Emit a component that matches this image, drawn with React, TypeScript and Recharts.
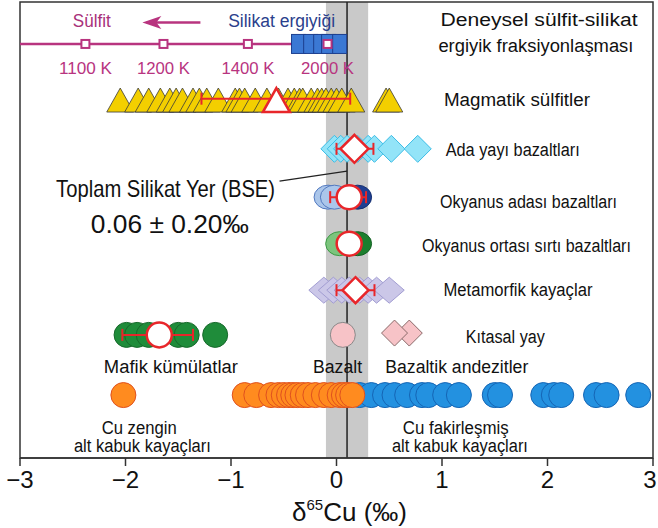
import React from 'react';
import { ComposedChart, Scatter, XAxis, YAxis, ReferenceArea, ReferenceLine, Label } from 'recharts';

const FONT = '"Liberation Sans", Arial, sans-serif';

// vertical layout: 0 = top of frame, 10 = bottom of frame
const ROW = {
  arrow: 0.45,
  sulfide: 0.92,
  kelvin: 1.58,
  magmatic: 2.15,
  ada: 3.22,
  oib: 4.28,
  morb: 5.3,
  meta: 6.32,
  mafic: 7.3,
  cu: 8.62,
};

// δ65Cu values (‰)
const sulfideSteps = [-2.38, -1.64, -0.84, -0.085];
const sulfideTemps = ['1100 K', '1200 K', '1400 K', '2000 K'];
const silicateMelt = [-0.36, -0.245, -0.15, -0.075, 0.03];

const magmaticSulfides = [
  -2.05, -1.88, -1.78, -1.67, -1.58, -1.52, -1.46, -1.36, -1.3, -1.23, -1.12, -0.96, -0.92,
  -0.87, -0.77, -0.66, -0.55, -0.46, -0.4, -0.35, -0.32, -0.24, -0.18, -0.14, -0.1, -0.05,
  0.0, 0.05, 0.14, 0.47, 0.5,
];
const arcBasalts = [-0.02, 0.04, 0.1, 0.2, 0.3, 0.36, 0.52, 0.77];
const oibLight = [-0.08, -0.02];
const oibDark = [0.2];
const morbLight = [0.03];
const morbDark = [0.2];
const metamorphic = [-0.12, -0.03, 0.05, 0.12, 0.22, 0.3, 0.38, 0.5];
const maficCumulates = [-1.99, -1.89, -1.78, -1.5, -1.42, -1.15];
const basalt = [0.06];
const arcAndesites = [0.69, 0.55];
const cuRichCrust = [
  -2.02, -0.87, -0.76, -0.62, -0.55, -0.5, -0.45, -0.41, -0.37, -0.32, -0.27, -0.2, -0.12,
  -0.05, 0.03, 0.07, 0.11, 0.15,
];
const cuPoorCrust = [
  0.22, 0.33, 0.46, 0.55, 0.67, 0.81, 0.87, 1.03, 1.16, 1.5, 1.55, 1.96, 2.06, 2.13, 2.46,
  2.56, 2.86,
];

// group means with their ranges
const means = [
  { group: 'magmatic', x: -0.57, lo: -1.28, hi: 0.13 },
  { group: 'ada', x: 0.17, lo: 0.0, hi: 0.35 },
  { group: 'oib', x: 0.12, lo: -0.06, hi: 0.28 },
  { group: 'morb', x: 0.12, lo: 0.04, hi: 0.2 },
  { group: 'meta', x: 0.18, lo: 0.0, hi: 0.36 },
  { group: 'mafic', x: -1.68, lo: -2.03, hi: -1.36 },
];

const bse = { value: 0.1, lo: -0.1, hi: 0.3 };

const notes = [
  { text: 'Sülfit', x: -2.32, y: 0.55, size: 18, w: 38, color: '#a8307a' },
  { text: 'Silikat ergiyiği', x: -0.52, y: 0.55, size: 18, w: 107, color: '#2b3f8c' },
  { text: 'Deneysel sülfit-silikat', x: 1.92, y: 0.53, size: 18, w: 197, color: '#111' },
  { text: 'ergiyik fraksiyonlaşması', x: 1.89, y: 1.1, size: 18, w: 195, color: '#111' },
  { text: 'Magmatik sülfitler', x: 1.71, y: 2.28, size: 18, w: 146, color: '#111' },
  { text: 'Ada yayı bazaltları', x: 1.67, y: 3.38, size: 18, w: 134, color: '#111' },
  { text: 'Okyanus adası bazaltları', x: 1.82, y: 4.52, size: 18, w: 177, color: '#111' },
  { text: 'Okyanus ortası sırtı bazaltları', x: 1.8, y: 5.48, size: 18, w: 209, color: '#111' },
  { text: 'Metamorfik kayaçlar', x: 1.72, y: 6.45, size: 18, w: 149, color: '#111' },
  { text: 'Kıtasal yay', x: 1.6, y: 7.48, size: 18, w: 79, color: '#111' },
  { text: 'Mafik kümülatlar', x: -1.57, y: 8.14, size: 18, w: 134, color: '#111' },
  { text: 'Bazalt', x: 0.01, y: 8.14, size: 18, w: 49, color: '#111' },
  { text: 'Bazaltik andezitler', x: 1.14, y: 8.14, size: 18, w: 143, color: '#111' },
  { text: 'Cu zengin', x: -1.87, y: 9.47, size: 18, w: 75, color: '#111' },
  { text: 'alt kabuk kayaçları', x: -1.84, y: 9.87, size: 18, w: 137, color: '#111' },
  { text: 'Cu fakirleşmiş', x: 1.13, y: 9.47, size: 18, w: 106, color: '#111' },
  { text: 'alt kabuk kayaçları', x: 1.17, y: 9.87, size: 18, w: 136, color: '#111' },
  { text: 'Toplam Silikat Yer (BSE)', x: -1.62, y: 4.28, size: 24, w: 219, color: '#111' },
  { text: '0.06 ± 0.20‰', x: -1.58, y: 5.07, size: 25, w: 158, color: '#111' },
];

const ticks = [-3, -2, -1, 0, 1, 2, 3];

const onRow = (values: number[], y: number) => values.map((x) => ({ x, y }));
const meanRow = (group: string, y: number) =>
  means.filter((m) => m.group === group).map((m) => ({ x: m.x, y }));
const rangeRow = (group: string, y: number) =>
  means
    .filter((m) => m.group === group)
    .flatMap((m) => [
      { x: m.lo, y },
      { x: m.hi, y },
    ]);

const MAGENTA = '#b8347f';
const RED = '#e8262a';

type P = { cx: number; cy: number; payload?: any };

const triangle = (fill: string, stroke: string, sw: number) => (p: P) => (
  <path
    d={`M${p.cx},${p.cy - 12}L${p.cx + 13.5},${p.cy + 12}L${p.cx - 13.5},${p.cy + 12}Z`}
    fill={fill}
    stroke={stroke}
    strokeWidth={sw}
  />
);
const diamond = (fill: string, stroke: string, sw: number, hw: number, hh: number) => (p: P) => (
  <path
    d={`M${p.cx},${p.cy - hh}L${p.cx + hw},${p.cy}L${p.cx},${p.cy + hh}L${p.cx - hw},${p.cy}Z`}
    fill={fill}
    stroke={stroke}
    strokeWidth={sw}
  />
);
const ellipse = (fill: string, stroke: string, sw: number, rx: number, ry: number) => (p: P) => (
  <ellipse cx={p.cx} cy={p.cy} rx={rx} ry={ry} fill={fill} stroke={stroke} strokeWidth={sw} />
);
const box = (fill: string, stroke: string, sw: number, w: number, h: number) => (p: P) => (
  <rect x={p.cx - w / 2} y={p.cy - h / 2} width={w} height={h} fill={fill} stroke={stroke} strokeWidth={sw} />
);
const cap = (p: P) => <line x1={p.cx} x2={p.cx} y1={p.cy - 6} y2={p.cy + 6} stroke={RED} strokeWidth={2} />;
const arrowHead = (p: P) => (
  <path
    d={`M${p.cx},${p.cy}L${p.cx + 19},${p.cy - 6.5}L${p.cx + 14},${p.cy}L${p.cx + 19},${p.cy + 6.5}Z`}
    fill={MAGENTA}
  />
);
const noteText = (p: P) => (
  <text
    x={p.cx}
    y={p.cy}
    textAnchor="middle"
    fontFamily={FONT}
    fontSize={p.payload.size}
    fill={p.payload.color}
    textLength={p.payload.w}
    lengthAdjust="spacingAndGlyphs"
  >
    {p.payload.text}
  </text>
);
const kelvinText = (p: P) => (
  <text
    x={p.cx}
    y={p.cy}
    textAnchor="middle"
    fontFamily={FONT}
    fontSize={17}
    fill={MAGENTA}
    textLength={53}
    lengthAdjust="spacingAndGlyphs"
  >
    {p.payload.label}
  </text>
);

const AxisTitle = (props: any) => {
  const { x, y, width } = props.viewBox;
  return (
    <text x={x + width / 2 + 13} y={y + 63} textAnchor="middle" fontFamily={FONT} fontSize={26} fill="#111">
      δ
      <tspan dy={-11} fontSize={15}>
        65
      </tspan>
      <tspan dy={11}>Cu (‰)</tspan>
    </text>
  );
};

const AxisTick = (props: any) => {
  const { x, y, payload } = props;
  const v = payload.value as number;
  const label = v < 0 ? `\u2212${-v}` : `${v}`;
  return (
    <text x={v === 3 ? x - 3 : x} y={y} dy="0.71em" textAnchor="middle" fontFamily={FONT} fontSize={24} fill="#111">
      {label}
    </text>
  );
};

const rangeBar = (group: string, y: number) => (
  <Scatter
    data={rangeRow(group, y)}
    line={{ stroke: RED, strokeWidth: 2 }}
    shape={cap}
    isAnimationActive={false}
  />
);

export default function App() {
  return (
    <div style={{ position: 'absolute', left: 0, top: 0, width: 658, height: 528, background: '#fff' }}>
      <ComposedChart width={658} height={528} margin={{ top: 2, right: 5, left: 20, bottom: 0 }}>
        <XAxis
          type="number"
          dataKey="x"
          domain={[-3, 3]}
          ticks={ticks}
          interval={0}
          tickSize={8}
          tickMargin={5}
          height={70}
          stroke="#333"
          strokeWidth={1.5}
          tick={<AxisTick />}
          allowDataOverflow
        >
          <Label content={AxisTitle} />
        </XAxis>
        <YAxis type="number" dataKey="y" domain={[0, 10]} reversed hide width={0} allowDataOverflow />

        <ReferenceArea x1={bse.lo} x2={bse.hi} y1={0} y2={10} fill="#c9c9c9" fillOpacity={1} stroke="none" />
        <ReferenceLine x={bse.value} stroke="#222" strokeWidth={1.5} />
        <ReferenceArea x1={-3} x2={3} y1={0} y2={10} fill="none" stroke="#333" strokeWidth={1.5} />
        <ReferenceLine
          segment={[
            { x: -3, y: ROW.sulfide },
            { x: 0.1, y: ROW.sulfide },
          ]}
          stroke={MAGENTA}
          strokeWidth={2.5}
        />
        <ReferenceLine
          segment={[
            { x: -1.8, y: ROW.arrow },
            { x: -1.29, y: ROW.arrow },
          ]}
          stroke={MAGENTA}
          strokeWidth={2.5}
        />
        <ReferenceLine
          segment={[
            { x: -0.54, y: 3.93 },
            { x: bse.value, y: 3.71 },
          ]}
          stroke="#222"
          strokeWidth={1.3}
        />

        {/* experimental sulfide - silicate fractionation */}
        <Scatter data={[{ x: -1.84, y: ROW.arrow }]} shape={arrowHead} isAnimationActive={false} />
        <Scatter data={onRow(silicateMelt, ROW.sulfide)} shape={box('#3b78d4', '#1d3f8f', 1, 14, 19)} isAnimationActive={false} />
        <Scatter data={onRow(sulfideSteps, ROW.sulfide)} shape={box('#fff', MAGENTA, 2, 8, 8)} isAnimationActive={false} />
        <Scatter
          data={sulfideSteps.map((x, i) => ({ x, y: ROW.kelvin, label: sulfideTemps[i] }))}
          shape={kelvinText}
          isAnimationActive={false}
        />

        {/* magmatic sulfides */}
        <Scatter data={onRow(magmaticSulfides, ROW.magmatic)} shape={triangle('#f3cf00', '#3a3a3a', 0.8)} isAnimationActive={false} />
        {rangeBar('magmatic', ROW.magmatic - 0.03)}
        <Scatter data={meanRow('magmatic', ROW.magmatic)} shape={triangle('#fff', RED, 2.5)} isAnimationActive={false} />

        {/* arc basalts */}
        <Scatter data={onRow(arcBasalts, ROW.ada)} shape={diamond('#93e4f8', '#3cbde6', 1, 13.5, 13.5)} isAnimationActive={false} />
        {rangeBar('ada', ROW.ada)}
        <Scatter data={meanRow('ada', ROW.ada)} shape={diamond('#fff', RED, 2.5, 14, 14)} isAnimationActive={false} />

        {/* ocean island basalts */}
        <Scatter data={onRow(oibDark, ROW.oib)} shape={ellipse('#1f3f92', '#152f70', 1, 14, 12)} isAnimationActive={false} />
        <Scatter data={onRow(oibLight, ROW.oib)} shape={ellipse('#abc6ea', '#5279c0', 1, 14, 12)} isAnimationActive={false} />
        {rangeBar('oib', ROW.oib)}
        <Scatter data={meanRow('oib', ROW.oib)} shape={ellipse('#fff', RED, 2.5, 12.5, 12)} isAnimationActive={false} />

        {/* mid-ocean ridge basalts */}
        <Scatter data={onRow(morbDark, ROW.morb)} shape={ellipse('#1c7f2e', '#146224', 1, 14, 12)} isAnimationActive={false} />
        <Scatter data={onRow(morbLight, ROW.morb)} shape={ellipse('#7cc47d', '#3d9a45', 1, 14, 12)} isAnimationActive={false} />
        <Scatter data={meanRow('morb', ROW.morb)} shape={ellipse('#fff', RED, 2.5, 12.5, 12)} isAnimationActive={false} />

        {/* metamorphic rocks */}
        <Scatter data={onRow(metamorphic, ROW.meta)} shape={diamond('#cbc7e8', '#a29dd2', 1, 15, 13)} isAnimationActive={false} />
        {rangeBar('meta', ROW.meta)}
        <Scatter data={meanRow('meta', ROW.meta)} shape={diamond('#fff', RED, 2.5, 13, 13)} isAnimationActive={false} />

        {/* mafic cumulates, basalt, arc andesites */}
        <Scatter data={onRow(maficCumulates, ROW.mafic)} shape={ellipse('#1f8c3a', '#17692b', 1, 12.5, 12.5)} isAnimationActive={false} />
        {rangeBar('mafic', ROW.mafic)}
        <Scatter data={meanRow('mafic', ROW.mafic)} shape={ellipse('#fff', RED, 2.5, 12.5, 12.5)} isAnimationActive={false} />
        <Scatter data={onRow(basalt, ROW.mafic)} shape={ellipse('#f7c3c7', '#8a8a8a', 1, 12.5, 12.5)} isAnimationActive={false} />
        <Scatter data={onRow(arcAndesites, ROW.mafic - 0.04)} shape={diamond('#f7c3c7', '#8a6a6a', 1, 13, 13)} isAnimationActive={false} />

        {/* lower crust */}
        <Scatter data={onRow(cuPoorCrust, ROW.cu)} shape={ellipse('#2391e0', '#1565b5', 1, 12.5, 12.5)} isAnimationActive={false} />
        <Scatter data={onRow(cuRichCrust, ROW.cu)} shape={ellipse('#ff8b1f', '#e0501e', 1, 12.5, 12.5)} isAnimationActive={false} />

        <Scatter data={notes} shape={noteText} isAnimationActive={false} />
      </ComposedChart>
    </div>
  );
}
